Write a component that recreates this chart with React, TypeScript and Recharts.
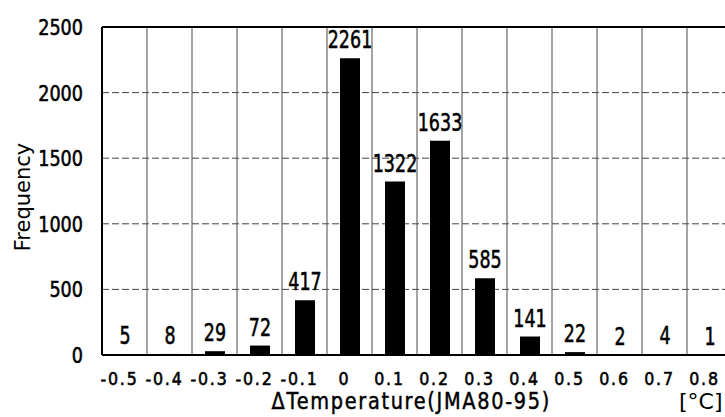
import React from 'react';
import { BarChart, Bar, XAxis, YAxis, CartesianGrid, ReferenceLine, LabelList } from 'recharts';

const categories = ['-0.5', '-0.4', '-0.3', '-0.2', '-0.1', '0', '0.1', '0.2', '0.3', '0.4', '0.5', '0.6', '0.7', '0.8'];
const frequency = [5, 8, 29, 72, 417, 2261, 1322, 1633, 585, 141, 22, 2, 4, 1];
const yTicks = [0, 500, 1000, 1500, 2000, 2500];

const data = categories.map((c, i) => ({ dt: c, freq: frequency[i] }));

const FONT = '"DejaVu Sans", sans-serif';

// vertical grid at the category boundaries, not at the band centres
const boundaryLines = ({ offset }: any) => {
  const step = offset.width / categories.length;
  return categories.map((_, i) => offset.left + step * (i + 1));
};

// the scan uses a tall, narrow gothic font; squeeze DejaVu horizontally
const Narrow = ({ x, y, size, sx, anchor, spacing, children }: any) => (
  <text
    transform={`translate(${x},${y}) scale(${sx},1)`}
    textAnchor={anchor}
    fontFamily={FONT}
    fontSize={size}
    letterSpacing={spacing || 0}
    fill="#000"
    stroke="#000"
    strokeWidth={0.6}
  >
    {children}
  </text>
);

const YTick = ({ x, y, payload }: any) => (
  <Narrow x={x} y={y + 8} size={22} sx={0.8} anchor="end">{payload.value}</Narrow>
);

const XTick = ({ x, y, payload }: any) => (
  <Narrow x={x - 5} y={y + 22} size={18} sx={0.88} anchor="middle" spacing={2}>{payload.value}</Narrow>
);

const ValueLabel = ({ x, y, width, value }: any) => (
  <Narrow x={x + width / 2} y={y - 10} size={25} sx={0.7} anchor="middle">{value}</Narrow>
);

const FreqLabel = ({ viewBox }: any) => {
  const cy = viewBox.y + viewBox.height / 2 + 6;
  return (
    <text transform={`translate(30,${cy}) rotate(-90)`} textAnchor="middle" fontFamily={FONT} fontSize={21} fill="#000">
      Frequency
    </text>
  );
};

export default function App() {
  return (
    <div style={{ position: 'fixed', left: 0, top: 0, width: 725, height: 417, overflow: 'hidden', background: '#fff' }}>
      <BarChart
        width={740}
        height={417}
        data={data}
        margin={{ top: 27, right: 8, bottom: 32, left: 0 }}
        barSize={20}
      >
        <CartesianGrid horizontal={true} vertical={false} stroke="#444" strokeDasharray="7 3" strokeWidth={1} />
        <CartesianGrid horizontal={false} vertical={true} stroke="#4a4a4a" strokeWidth={1} verticalCoordinatesGenerator={boundaryLines} />
        <XAxis
          dataKey="dt"
          height={30}
          axisLine={{ stroke: '#000', strokeWidth: 2 }}
          tickLine={false}
          tick={<XTick />}
          interval={0}
        />
        <YAxis
          domain={[0, 2500]}
          ticks={yTicks}
          width={102}
          axisLine={{ stroke: '#000', strokeWidth: 2 }}
          tickLine={false}
          tickMargin={13}
          tick={<YTick />}
          label={<FreqLabel />}
        />
        <ReferenceLine y={2500} stroke="#000" strokeWidth={2} />
        <Bar dataKey="freq" fill="#000" isAnimationActive={false}>
          <LabelList dataKey="freq" content={<ValueLabel />} />
        </Bar>
      </BarChart>
      <div style={{ position: 'absolute', left: 0, width: 822, top: 388, textAlign: 'center' }}>
        <span style={{ display: 'inline-block', transform: 'scaleX(0.84)', fontFamily: FONT, fontSize: 23, letterSpacing: 2, lineHeight: '26px', WebkitTextStroke: '0.5px #000' }}>
          ΔTemperature(JMA80-95)
        </span>
      </div>
      <div style={{ position: 'absolute', left: 679, top: 389, fontFamily: FONT, fontSize: 22, lineHeight: '26px' }}>
        [°C]
      </div>
    </div>
  );
}
